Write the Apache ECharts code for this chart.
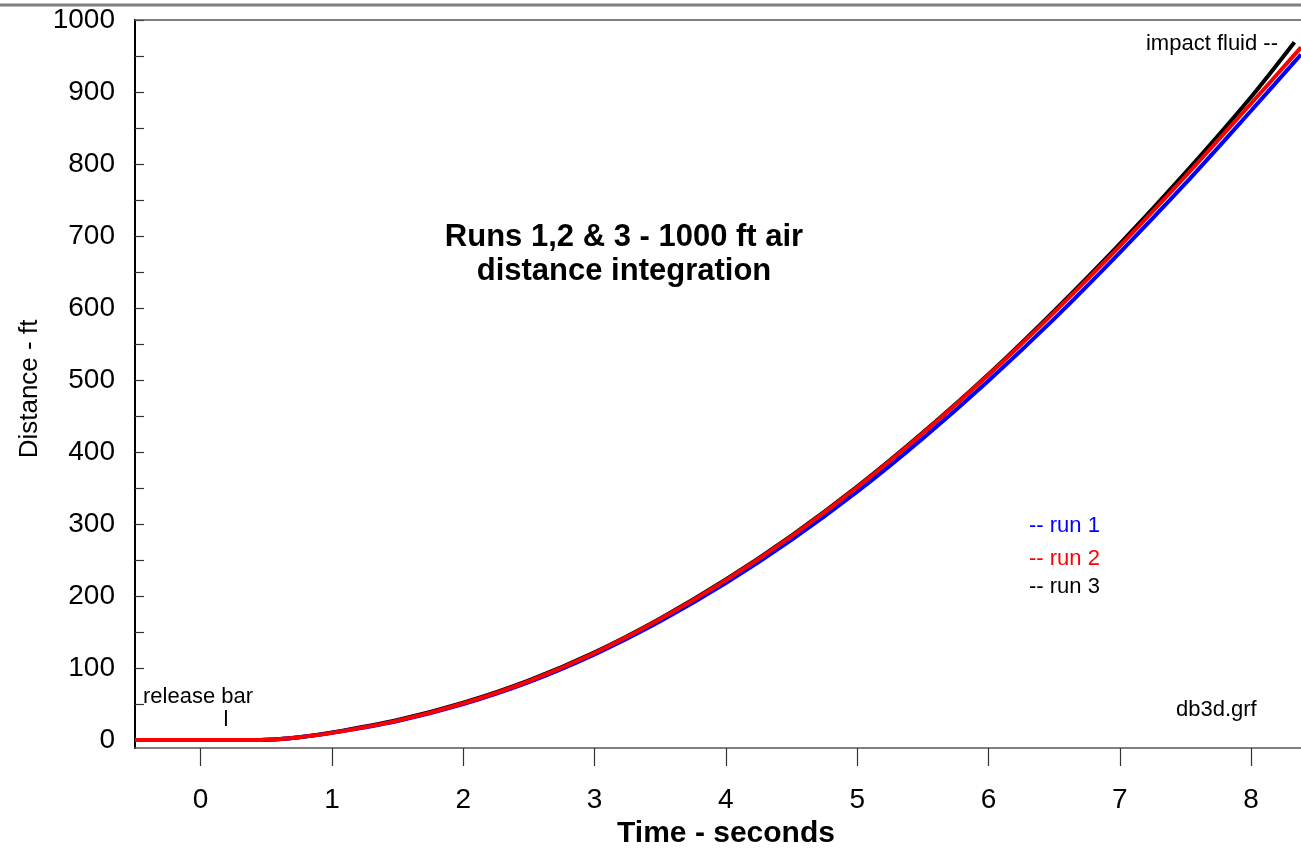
<!DOCTYPE html>
<html>
<head>
<meta charset="utf-8">
<script src="https://cdn.jsdelivr.net/npm/echarts@6/dist/echarts.min.js"></script>
<style>
  html, body { margin: 0; padding: 0; background: #fff; }
  #chart { width: 1301px; height: 850px; }
</style>
</head>
<body>
<div id="chart"></div>
<script>
// Time samples (seconds); run 3 stops at impact slightly earlier
const timesRun12 = [-0.5, 0, 0.25, 0.5, 0.75, 1, 1.5, 2, 2.5, 3, 3.5, 4, 4.5, 5, 5.5, 6, 6.5, 7, 7.5, 8, 8.38];
const timesRun3  = [-0.5, 0, 0.25, 0.5, 0.75, 1, 1.5, 2, 2.5, 3, 3.5, 4, 4.5, 5, 5.5, 6, 6.5, 7, 7.5, 8, 8.33];
// Integrated distance (ft) for each run
const run1 = [0, 0, 0, 0.5, 4, 10, 26.5, 50, 80.5, 119, 165, 218, 278, 345, 419, 499, 585, 677, 773, 874, 952];
const run2 = [0, 0, 0, 0.5, 4, 10, 27, 51, 82, 121, 168, 222, 283, 351, 426, 507, 594, 686, 783, 884, 962];
const run3 = [0, 0, 0, 0.5, 4, 10.5, 28, 52, 83, 122, 169, 223, 284, 352, 427, 508, 596, 689, 788, 893, 969];

const xTicks = [0, 1, 2, 3, 4, 5, 6, 7, 8];
const yLabels = [0, 100, 200, 300, 400, 500, 600, 700, 800, 900, 1000];
const yTicks = [0, 50, 100, 150, 200, 250, 300, 350, 400, 450, 500, 550, 600, 650, 700, 750, 800, 850, 900, 950, 1000];

const pairs = (ts, ys) => ys.map((v, i) => [ts[i], v]);
const FONT = '"Liberation Sans", Arial, Helvetica, sans-serif';

const chart = echarts.init(document.getElementById('chart'), null, { renderer: 'canvas' });

const lineSeries = (name, ts, data, color) => ({
  name: name,
  type: 'line',
  data: pairs(ts, data),
  showSymbol: false,
  smooth: 0.3,
  lineStyle: { color: color, width: 4 },
  itemStyle: { color: color },
  z: 3
});

chart.setOption({
  animation: false,
  backgroundColor: '#fff',
  textStyle: { fontFamily: FONT },
  grid: { left: 135, right: 0, top: 20, bottom: 102, containLabel: false },
  xAxis: {
    type: 'value',
    min: -0.5,
    max: 8.38,
    axisLine: { show: true, onZero: false, lineStyle: { color: '#555', width: 1.5 } },
    axisTick: { show: true, customValues: xTicks, length: 18, inside: false, lineStyle: { color: '#333', width: 1.2 } },
    axisLabel: { customValues: xTicks, fontSize: 28, color: '#000', margin: 38, fontFamily: FONT,
                 formatter: (v) => String(v) },
    splitLine: { show: false }
  },
  yAxis: {
    type: 'value',
    min: -11,
    max: 1000,
    axisLine: { show: true, onZero: false, lineStyle: { color: '#000', width: 2 } },
    axisTick: { show: true, customValues: yTicks, length: 9, inside: true, lineStyle: { color: '#333', width: 1.2 } },
    axisLabel: { customValues: yLabels, fontSize: 28, color: '#000', margin: 20, fontFamily: FONT,
                 formatter: (v) => String(v) },
    splitLine: { show: false }
  },
  series: [
    lineSeries('run 3', timesRun3, run3, '#000000'),
    lineSeries('run 1', timesRun12, run1, '#0000ff'),
    lineSeries('run 2', timesRun12, run2, '#ff0000')
  ],
  graphic: [
    // page rule and plot frame top edge
    { type: 'line', shape: { x1: 0, y1: 5, x2: 1301, y2: 5 }, style: { stroke: '#808080', lineWidth: 3 }, z: 10 },
    { type: 'line', shape: { x1: 135, y1: 20, x2: 1301, y2: 20 }, style: { stroke: '#555', lineWidth: 1.5 }, z: 10 },
    // axis titles
    { type: 'text', x: 30, y: 389, rotation: Math.PI / 2,
      style: { text: 'Distance - ft', font: '26px ' + FONT, fill: '#000', align: 'center', verticalAlign: 'middle' } },
    { type: 'text', x: 726, y: 834,
      style: { text: 'Time - seconds', font: 'bold 30px ' + FONT, fill: '#000', align: 'center', verticalAlign: 'middle' } },
    // chart heading
    { type: 'text', x: 624, y: 254,
      style: { text: 'Runs 1,2 & 3 - 1000 ft air\ndistance integration', font: 'bold 31px ' + FONT, lineHeight: 34,
               fill: '#000', align: 'center', verticalAlign: 'middle' } },
    // annotations
    { type: 'text', x: 1278, y: 44,
      style: { text: 'impact fluid --', font: '22px ' + FONT, fill: '#000', align: 'right', verticalAlign: 'middle' } },
    { type: 'text', x: 1029, y: 526,
      style: { text: '-- run 1', font: '22px ' + FONT, fill: '#0000ff', align: 'left', verticalAlign: 'middle' } },
    { type: 'text', x: 1029, y: 559,
      style: { text: '-- run 2', font: '22px ' + FONT, fill: '#ff0000', align: 'left', verticalAlign: 'middle' } },
    { type: 'text', x: 1029, y: 587,
      style: { text: '-- run 3', font: '22px ' + FONT, fill: '#000', align: 'left', verticalAlign: 'middle' } },
    { type: 'text', x: 1176, y: 710,
      style: { text: 'db3d.grf', font: '22px ' + FONT, fill: '#000', align: 'left', verticalAlign: 'middle' } },
    { type: 'text', x: 143, y: 697,
      style: { text: 'release bar', font: '22px ' + FONT, fill: '#000', align: 'left', verticalAlign: 'middle' } },
    { type: 'text', x: 226, y: 720,
      style: { text: 'l', font: '22px ' + FONT, fill: '#000', align: 'center', verticalAlign: 'middle' } }
  ]
});
</script>
</body>
</html>
